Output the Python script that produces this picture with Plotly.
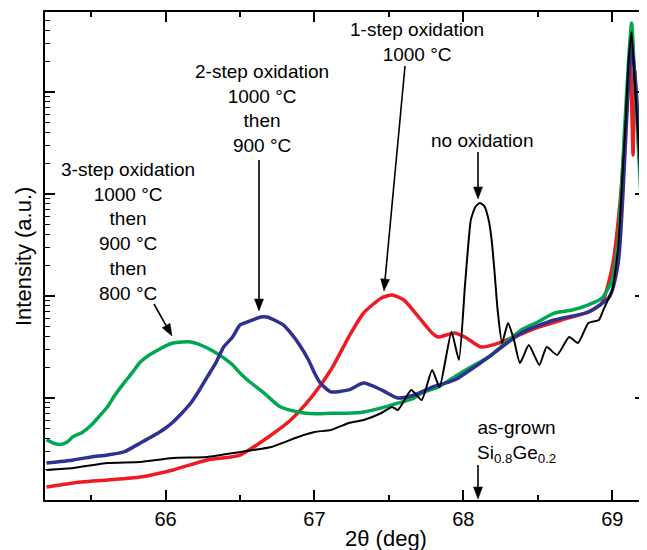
import math
import plotly.graph_objects as go

# ---- data (2theta in deg, intensity in a.u., log scale) ----
x_green = [65.20, 65.25, 65.29, 65.34, 65.38, 65.44, 65.50, 65.55, 65.61, 65.66, 65.72, 65.78,
           65.83, 65.89, 65.95, 66.00, 66.05, 66.11, 66.17, 66.22, 66.28, 66.34, 66.39, 66.45,
           66.50, 66.55, 66.66, 66.77, 66.89, 67.00, 67.11, 67.22, 67.33, 67.45, 67.56, 67.67,
           67.72, 67.83, 67.94, 68.05, 68.17, 68.28, 68.39, 68.50, 68.61, 68.73, 68.84, 68.93,
           69.00, 69.02, 69.04, 69.06, 69.08, 69.11, 69.13, 69.15, 69.18, 69.20]
y_green = [3.9, 3.6, 3.5, 3.7, 4.2, 4.6, 5.4, 6.5, 8.2, 10.7, 14.0, 18.0,
           22.5, 26.4, 29.6, 32.4, 34.6, 35.4, 35.4, 33.8, 30.9, 27.6, 24.7, 21.1,
           17.6, 15.0, 11.2, 8.2, 7.3, 7.0, 7.1, 7.1, 7.3, 8.0, 8.9, 10.0,
           11.2, 12.8, 16.1, 20.1, 25.2, 34.6, 46.5, 55.6, 68, 72.9, 82, 95,
           144, 215, 331, 1023, 3620, 20600, 47400, 14000, 2150, 596]

x_blue = [65.20, 65.38, 65.50, 65.61, 65.72, 65.83, 65.89, 65.95, 66.00, 66.05, 66.11, 66.17,
          66.22, 66.28, 66.34, 66.39, 66.45, 66.50, 66.55, 66.64, 66.68, 66.73, 66.79, 66.84,
          66.90, 66.96, 67.00, 67.04, 67.11, 67.23, 67.33, 67.45, 67.56, 67.67, 67.79, 67.94,
          68.17, 68.39, 68.61, 68.84, 68.98, 69.04, 69.08, 69.11, 69.13, 69.16, 69.19, 69.21]
y_blue = [2.3, 2.47, 2.64, 2.76, 2.96, 3.62, 4.05, 4.54, 5.08, 5.82, 7.13, 8.93,
          11.5, 16.1, 22.5, 31.6, 39.6, 52, 55.6, 62.2, 62.2, 58.2, 52, 43.4,
          33.1, 23.6, 17.6, 14.0, 11.5, 12.0, 14.0, 12.0, 10.0, 10.7, 12.8, 15.0,
          25.2, 43.4, 58.2, 69.7, 97.7, 211, 1720, 13100, 28900, 10500, 1720, 331]

x_red = [65.20, 65.38, 65.61, 65.83, 66.05, 66.28, 66.50, 66.69, 66.84, 66.98, 67.11,
         67.23, 67.33, 67.45, 67.52, 67.60, 67.70, 67.79, 67.83, 67.94, 68.01, 68.12, 68.24,
         68.34, 68.51, 68.66, 68.84, 68.93, 69.00, 69.06, 69.10, 69.12, 69.14, 69.15, 69.18, 69.21]
y_red = [1.34, 1.47, 1.57, 1.68, 1.97, 2.47, 2.76, 4.15, 6.09, 10.2, 18.8,
         39.6, 68.1, 95.6, 102, 91.4, 62.2, 43.4, 39.6, 43.4, 39.6, 31.6, 34.6,
         39.6, 49.7, 58.2, 69.7, 85.4, 192, 1090, 8350, 23000, 2410, 16400, 2700, 396]

x_black = [65.20, 65.38, 65.61, 65.83, 66.05, 66.28, 66.50, 66.71, 66.89, 67.00, 67.11, 67.23,
           67.33, 67.45, 67.52, 67.56, 67.65, 67.72, 67.79, 67.84, 67.92, 67.97, 68.01, 68.03,
           68.05, 68.08, 68.11, 68.14, 68.17, 68.19, 68.21, 68.23, 68.26, 68.30, 68.34, 68.38,
           68.44, 68.51, 68.56, 68.63, 68.71, 68.77, 68.84, 68.91, 68.94, 69.00, 69.04, 69.06,
           69.09, 69.11, 69.13, 69.15, 69.18, 69.21]
y_black = [1.97, 2.06, 2.3, 2.36, 2.58, 2.64, 2.96, 3.31, 4.15, 4.64, 4.86, 5.69,
           6.09, 7.13, 8.17, 7.62, 12.0, 9.55, 18.8, 12.8, 44.4, 23.6, 122, 282,
           556, 746, 816, 763, 556, 354, 168, 73, 34.6, 54.3, 37.0, 22.0,
           33.1, 21.1, 31.6, 26.4, 39.6, 34.6, 54.3, 58.2, 72.9, 115, 302, 935,
           5310, 20600, 38700, 13100, 2700, 444]

x_tickvals = [66, 67, 68, 69]
x_ticktext = ["66", "67", "68", "69"]

FONT = "Liberation Sans, Arial, Helvetica, sans-serif"

# page body has an 8px margin: the figure is placed at (8, 8)
OFF = 8
W, H = 647 - OFF, 550 - OFF
# plot area in page pixels: x 45..645, y 12..500
PL, PR, PT, PB = 45, 645, 12, 500
L, R, T, B = PL - OFF, (OFF + W) - PR, PT - OFF, (OFF + H) - PB
PW, PH = PR - PL, PB - PT


def px(xp):
    return (xp - PL) / PW


def py(yp):
    return (PB - yp) / PH


fig = go.Figure()
fig.add_trace(go.Scatter(x=x_red, y=y_red, mode="lines",
                         line=dict(color="#ed1c24", width=3.5, shape="spline", smoothing=0.6)))
fig.add_trace(go.Scatter(x=x_green, y=y_green, mode="lines",
                         line=dict(color="#00a651", width=3.5, shape="spline", smoothing=0.6)))
fig.add_trace(go.Scatter(x=x_blue, y=y_blue, mode="lines",
                         line=dict(color="#2e3192", width=3.5, shape="spline", smoothing=0.6)))
fig.add_trace(go.Scatter(x=x_black, y=y_black, mode="lines",
                         line=dict(color="#000000", width=2, shape="spline", smoothing=0.5)))

annotations = []
labels = [
    ("1-step oxidation<br>1000 °C", 417, 42),
    ("no oxidation", 482, 140),
    ("2-step oxidation<br>1000 °C<br>then<br>900 °C", 262, 109),
    ("3-step oxidation<br>1000 °C<br>then<br>900 °C<br>then<br>800 °C", 128, 231),
    ("as-grown<br>Si<sub>0.8</sub>Ge<sub>0.2</sub>", 516, 441),
]
for txt, xx, yy in labels:
    annotations.append(dict(text=txt, x=px(xx), y=py(yy), xref="paper", yref="paper",
                            xanchor="center", yanchor="middle", showarrow=False,
                            font=dict(family=FONT, size=19, color="black")))
annotations.append(dict(text="Intensity (a.u.)", x=px(23), y=py(257), xref="paper", yref="paper",
                        xanchor="center", yanchor="middle", textangle=-90, showarrow=False,
                        font=dict(family=FONT, size=22, color="black")))
annotations.append(dict(text="2θ (deg)", x=px(386), y=py(538), xref="paper", yref="paper",
                        xanchor="center", yanchor="middle", showarrow=False,
                        font=dict(family=FONT, size=22, color="black")))

# arrows as shapes: (tail_x, tail_y, tip_x, tip_y) in page pixels
arrows = [
    (405, 66, 384, 291),
    (478, 152, 478, 199),
    (259, 160, 259, 311),
    (154, 304, 172, 336),
    (478, 465, 478, 499),
]
shapes = []
HEAD_L, HEAD_W = 12, 4.5
for sx, sy, tx, ty in arrows:
    dx, dy = tx - sx, ty - sy
    n = math.hypot(dx, dy)
    ux, uy = dx / n, dy / n
    bx, by = tx - HEAD_L * ux, ty - HEAD_L * uy
    nx, ny = -uy, ux
    shapes.append(dict(type="line", xref="paper", yref="paper",
                       x0=px(sx), y0=py(sy), x1=px(bx + 2 * ux), y1=py(by + 2 * uy),
                       line=dict(color="black", width=1.6)))
    c1 = (bx + HEAD_W * nx, by + HEAD_W * ny)
    c2 = (bx - HEAD_W * nx, by - HEAD_W * ny)
    path = "M {:.5f} {:.5f} L {:.5f} {:.5f} L {:.5f} {:.5f} Z".format(
        px(tx), py(ty), px(c1[0]), py(c1[1]), px(c2[0]), py(c2[1]))
    shapes.append(dict(type="path", xref="paper", yref="paper", path=path,
                       fillcolor="black", line=dict(color="black", width=0.5)))

fig.update_layout(
    width=W, height=H,
    margin=dict(l=L, r=R, t=T, b=B, autoexpand=False),
    paper_bgcolor="white", plot_bgcolor="white",
    showlegend=False,
    font=dict(family=FONT, size=20, color="black"),
    annotations=annotations,
    shapes=shapes,
    xaxis=dict(range=[65.19, 69.22], tickvals=x_tickvals, ticktext=x_ticktext,
               ticks="inside", ticklen=10, tickwidth=1.5, tickcolor="black",
               showline=True, linecolor="black", linewidth=1.5, mirror="ticks",
               showgrid=False, zeroline=False, tickfont=dict(size=20),
               minor=dict(tickvals=[65.5, 66.5, 67.5, 68.5], ticks="inside", ticklen=5,
                          tickwidth=1.5, tickcolor="black", showgrid=False)),
    yaxis=dict(type="log", range=[0, 4.784], dtick=1, showticklabels=False,
               ticks="inside", ticklen=10, tickwidth=1.5, tickcolor="black",
               showline=True, linecolor="black", linewidth=1.5, mirror="ticks",
               showgrid=False, zeroline=False,
               minor=dict(dtick="D1", ticks="inside", ticklen=5, tickwidth=1.2,
                          tickcolor="black", showgrid=False)),
)

fig.write_html("out.html")
